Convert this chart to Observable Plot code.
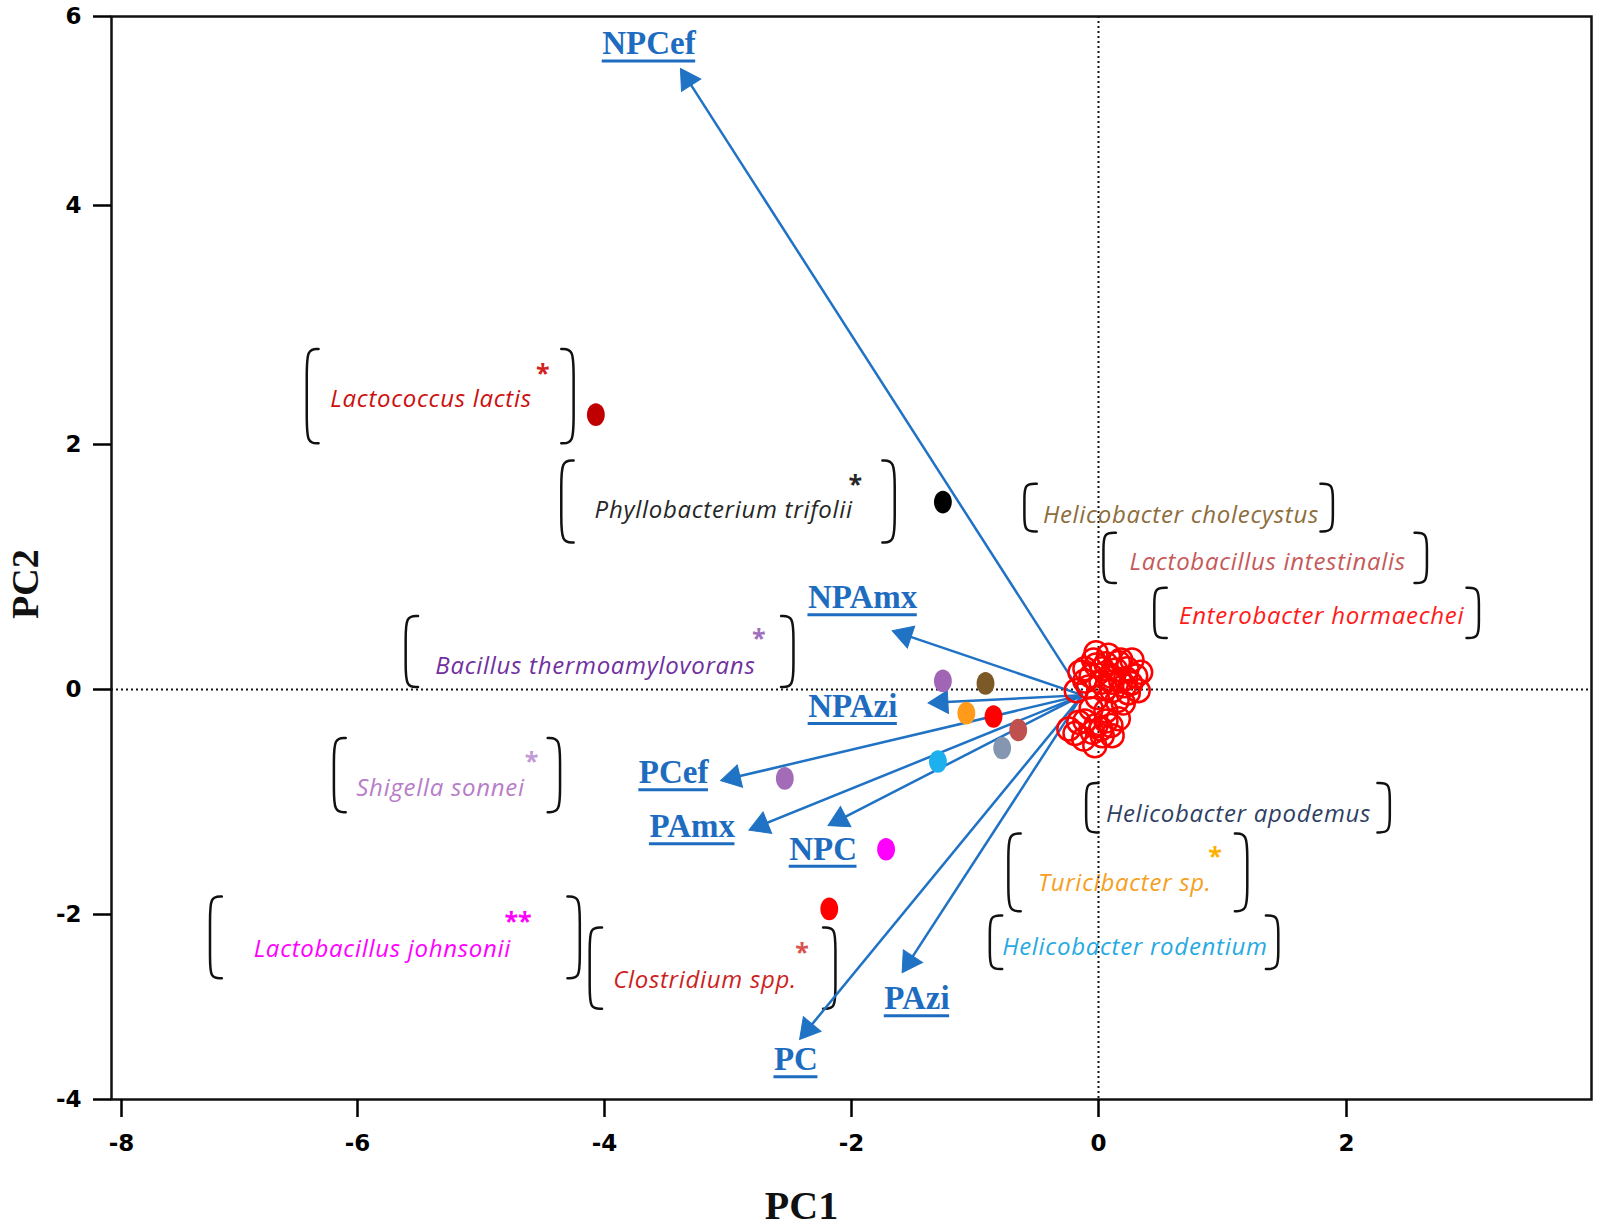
<!DOCTYPE html>
<html><head><meta charset="utf-8">
<script src="https://cdn.jsdelivr.net/npm/d3@7"></script>
<script src="https://cdn.jsdelivr.net/npm/@observablehq/plot@0.6"></script>
<style>
body{margin:0;background:#fff;}
g[font-style="italic"] text{ letter-spacing: 0.7px; }
</style></head><body><div id="chart"></div>
<script>
// ---- axis ticks ----
const xTicks = [-8, -6, -4, -2, 0, 2];
const yTicks = [-4, -2, 0, 2, 4, 6];

// ---- loading vectors (arrows) ----
const vectorNames = ["NPCef", "NPAmx", "NPAzi", "PCef", "PAmx", "NPC", "PAzi", "PC"];
const vectorPC1 = [-3.385, -1.67, -1.38, -3.06, -2.83, -2.19, -1.59, -2.42];
const vectorPC2 = [5.45, 0.48, -0.12, -0.81, -1.25, -1.21, -2.63, -3.35];
const vectorLabelPC1 = [-3.64, -1.91, -1.99, -3.44, -3.29, -2.23, -1.47, -2.45];
const vectorLabelPC2 = [5.71, 0.75, -0.15, -0.74, -1.22, -1.42, -2.91, -3.57];
const vectorOrigin = [-0.13, -0.05];

// ---- taxa scores (filled dots) ----
const taxaNames = ["Lactococcus lactis", "Phyllobacterium trifolii", "Bacillus thermoamylovorans", "Helicobacter cholecystus", "Turicibacter sp.", "Enterobacter hormaechei", "Lactobacillus intestinalis", "Helicobacter apodemus", "Helicobacter rodentium", "Shigella sonnei", "Lactobacillus johnsonii", "Clostridium spp."];
const taxaPC1 = [-4.07, -1.26, -1.26, -0.915, -1.07, -0.85, -0.65, -0.78, -1.30, -2.54, -1.72, -2.18];
const taxaPC2 = [2.25, 1.53, 0.07, 0.05, -0.21, -0.24, -0.36, -0.52, -0.64, -0.79, -1.42, -1.95];
const taxaColor = ["#c00000", "#000000", "#a066b5", "#7b5a28", "#ff9a1a", "#ff0000", "#c0504d", "#8496b0", "#1cb1ee", "#a46bb8", "#ff00ff", "#ff0000"];

// ---- other taxa (open red circles near origin) ----
const clusterPC1 = [-0.15, -0.04, 0.06, 0.16, 0.23, 0.30, 0.32, 0.24, 0.18, 0.10, 0.02, -0.08, -0.18, -0.01, 0.11, 0.20, -0.11, 0.15, 0.27, 0.08, -0.02, 0.21, 0.06, 0.16, 0.10, 0.03, -0.03, -0.12, -0.19, -0.24, -0.02, 0.11, -0.06, 0.34,
  -0.06, 0.03, 0.14, 0.22, 0.06, -0.02, 0.26, -0.11, 0.18, 0.11, -0.11, 0.02, -0.05, -0.16, 0.06];
const clusterPC2 = [0.14, 0.24, 0.21, 0.22, 0.17, 0.11, -0.01, -0.03, 0.07, 0.11, 0.06, 0.02, -0.01, -0.07, -0.01, -0.12, 0.17, -0.10, 0.24, 0.28, 0.30, 0.03, -0.19, -0.26, -0.32, -0.41, -0.50, -0.44, -0.39, -0.35, -0.32, -0.41, -0.17, 0.14,
  0.11, 0.17, 0.16, 0.09, 0.01, 0.20, 0.05, 0.07, 0.24, 0.06, -0.28, -0.35, -0.38, -0.29, -0.28];

// ---- bracketed labels ----
const labelText = ["Lactococcus lactis", "Phyllobacterium trifolii", "Helicobacter cholecystus", "Lactobacillus intestinalis", "Enterobacter hormaechei", "Bacillus thermoamylovorans", "Shigella sonnei", "Helicobacter apodemus", "Turicibacter sp.", "Helicobacter rodentium", "Lactobacillus johnsonii", "Clostridium spp."];
const labelColor = ["#cc1010", "#262626", "#8c6d3b", "#c55a5a", "#ff1a1a", "#7030a0", "#b87cc9", "#2f3f63", "#f5a023", "#27aae1", "#ff00ff", "#cc1f1f"];
const labelPC1 = [-6.23, -4.08, -0.45, 0.25, 0.65, -5.37, -6.01, 0.06, -0.49, -0.78, -6.88, -3.93];
const labelPC2 = [2.38, 1.46, 1.42, 1.04, 0.60, 0.19, -0.88, -1.11, -1.72, -2.35, -2.38, -2.71];
const starText = ["*", "*", "", "", "", "*", "*", "", "*", "", "**", "*"];
const starColor = ["#d42020", "#262626", "", "", "", "#a070c0", "#c49ad6", "", "#ffb000", "", "#ff00ff", "#d9534f"];
const starPC1 = [-4.50, -1.97, null, null, null, -2.75, -4.59, null, 0.94, null, -4.70, -2.40];
const starPC2 = [2.59, 1.67, null, null, null, 0.41, -0.64, null, -1.49, null, -2.08, -2.42];
const bracketLeft = [-6.43, -4.35, -0.60, 0.04, 0.45, -5.61, -6.20, -0.10, -0.73, -0.88, -7.25, -4.12];
const bracketRight = [-4.25, -1.65, 1.89, 2.65, 3.07, -2.47, -4.36, 2.35, 1.20, 1.45, -4.20, -2.13];
const bracketTop = [2.80, 1.87, 1.68, 1.28, 0.83, 0.60, -0.43, -0.83, -1.28, -2.01, -1.84, -2.14];
const bracketBottom = [2.01, 1.20, 1.29, 0.87, 0.42, 0.02, -1.09, -1.27, -1.97, -2.59, -2.69, -3.02];

// ---- layout ----
const W = 1600, H = 1231;
const mL = 111, mR = 9, mT = 16, mB = 132;
// the original figure's tick marks are unevenly spaced: piecewise mappings reproduce them
const xDomain = [-8.09, -8, -6, -4, -2, 0, 2, 3.98];
const xRange = [mL, 121, 357, 604, 851, 1098, 1346, W - mR];
const yDomain = [-4, -2, 0, 2, 4, 6];
const yRange = [H - mB, 914, 689, 444, 205, mT];

const blue = "#1f72c4";
const xs = d3.scaleLinear(xDomain, xRange);
const ys = d3.scaleLinear(yDomain, yRange);
const headR = 8.5;
const vecFont = 33;

const ctx = document.createElement("canvas").getContext("2d");
ctx.font = `bold ${vecFont}px "Liberation Serif"`;

const vectors = vectorNames.map((name, i) => {
  const x0 = xs(vectorOrigin[0]), y0 = ys(vectorOrigin[1]);
  const x1 = xs(vectorPC1[i]), y1 = ys(vectorPC2[i]);
  const len = Math.hypot(x1 - x0, y1 - y0);
  const ux = (x1 - x0) / len, uy = (y1 - y0) / len;
  const back = 1.555 * headR;
  const w = ctx.measureText(name).width;
  const lcx = xs(vectorLabelPC1[i]), lcy = ys(vectorLabelPC2[i]);
  return {
    name, x1: vectorPC1[i], y1: vectorPC2[i],
    hx: xs.invert(x1 - ux * back), hy: ys.invert(y1 - uy * back),
    angle: Math.atan2(ux, -uy) * 180 / Math.PI,
    lx: vectorLabelPC1[i], ly: vectorLabelPC2[i],
    ux1: xs.invert(lcx - w / 2), ux2: xs.invert(lcx + w / 2), uy: ys.invert(lcy + 17)
  };
});

const taxa = taxaNames.map((n, i) => ({name: n, x: taxaPC1[i], y: taxaPC2[i], color: taxaColor[i]}));
const cluster = clusterPC1.map((x, i) => ({x, y: clusterPC2[i]}));
const labels = labelText.map((t, i) => ({text: t, color: labelColor[i], x: labelPC1[i], y: labelPC2[i]}));
const stars = starText.map((t, i) => ({text: t, color: starColor[i], x: starPC1[i], y: starPC2[i]})).filter(d => d.text);

// bracket outlines: curl width/height in data units
const curlW = 0.1, curlH = 0.22;
const bracketPts = [];
labelText.forEach((t, i) => {
  const L = bracketLeft[i], R = bracketRight[i], T = bracketTop[i], B = bracketBottom[i];
  const h = Math.min(curlH, (T - B) / 3);
  [[L, 1], [R, -1]].forEach(([x, s], k) => {
    const id = i + "-" + k;
    [[x + s * curlW, T], [x, T], [x, T - h], [x, B + h], [x, B], [x + s * curlW, B]]
      .forEach(([px, py]) => bracketPts.push({id, x: px, y: py}));
  });
});

const ellipse = {
  draw(context, size) {
    const r = Math.sqrt(size / Math.PI), rx = r * 0.85, ry = r * 1.08, k = 0.5523;
    context.moveTo(rx, 0);
    context.bezierCurveTo(rx, ry * k, rx * k, ry, 0, ry);
    context.bezierCurveTo(-rx * k, ry, -rx, ry * k, -rx, 0);
    context.bezierCurveTo(-rx, -ry * k, -rx * k, -ry, 0, -ry);
    context.bezierCurveTo(rx * k, -ry, rx, -ry * k, rx, 0);
    context.closePath();
  }
};

const fmt = d => (d < 0 ? "-" + (-d) : String(d));

const chart = Plot.plot({
  width: W, height: H,
  marginLeft: mL, marginRight: mR, marginTop: mT, marginBottom: mB,
  // linear pixel scales; data pass through the figure's (uneven) tick mapping
  x: {type: "linear", domain: [mL, W - mR], transform: d => xs(d)},
  y: {type: "linear", domain: [H - mB, mT], transform: d => ys(d)},
  style: {background: "#fff"},
  marks: [
    Plot.ruleX([0], {stroke: "#111", strokeWidth: 2, strokeDasharray: "2,3"}),
    Plot.ruleY([0], {stroke: "#111", strokeWidth: 2, strokeDasharray: "2,3"}),
    Plot.line(bracketPts, {x: "x", y: "y", z: "id", curve: "basis", stroke: "#111", strokeWidth: 2.5}),
    Plot.text(labels, {x: "x", y: "y", text: "text", fill: "color", textAnchor: "start", lineAnchor: "middle",
      fontFamily: "Open Sans", fontStyle: "italic", fontSize: 24}),
    Plot.text(stars, {x: "x", y: "y", text: "text", fill: "color", textAnchor: "middle", lineAnchor: "middle",
      fontFamily: "Open Sans", fontSize: 25, fontWeight: "bold"}),
    Plot.link(vectors, {x1: () => vectorOrigin[0], y1: () => vectorOrigin[1], x2: "hx", y2: "hy", stroke: blue, strokeWidth: 2.5}),
    Plot.dot(vectors, {x: "hx", y: "hy", symbol: "triangle", r: headR, rotate: "angle", fill: blue, stroke: blue, strokeWidth: 1}),
    Plot.text(vectors, {x: "lx", y: "ly", text: "name", fill: "#1e6cc0", textAnchor: "middle", lineAnchor: "middle",
      fontFamily: "Liberation Serif", fontWeight: "bold", fontSize: vecFont}),
    Plot.ruleY(vectors, {y: "uy", x1: "ux1", x2: "ux2", stroke: "#1e6cc0", strokeWidth: 3}),
    Plot.dot(taxa, {x: "x", y: "y", fill: "color", r: 10.5, symbol: ellipse}),
    Plot.dot(cluster, {x: "x", y: "y", r: 11.5, stroke: "#ff0000", strokeWidth: 2.5, fill: "none"}),
    Plot.frame({stroke: "#111", strokeWidth: 2.5}),
    // axes: tick positions pass through the same mapping as the data
    Plot.axisX({ticks: xTicks.map(xs), tickFormat: d => fmt(Math.round(xs.invert(d))), tickSize: 18, tickPadding: 17, strokeWidth: 2.5,
      fontSize: 23, fontWeight: "bold", fontFamily: "DejaVu Sans", label: null}),
    Plot.axisY({ticks: yTicks.map(ys), tickFormat: d => fmt(Math.round(ys.invert(d))), tickSize: 18, tickPadding: 12, strokeWidth: 2.5,
      fontSize: 23, fontWeight: "bold", fontFamily: "DejaVu Sans", label: null}),
    Plot.text(["PC1"], {frameAnchor: "bottom", dx: -50, dy: 119, text: d => d,
      fontFamily: "Liberation Serif", fontWeight: "bold", fontSize: 40, fill: "#111"}),
    Plot.text(["PC2"], {frameAnchor: "left", dx: -86, dy: 61, rotate: -90, text: d => d,
      fontFamily: "Liberation Serif", fontWeight: "bold", fontSize: 38, fill: "#111"})
  ]
});
document.getElementById("chart").appendChild(chart);
</script>
</body></html>
